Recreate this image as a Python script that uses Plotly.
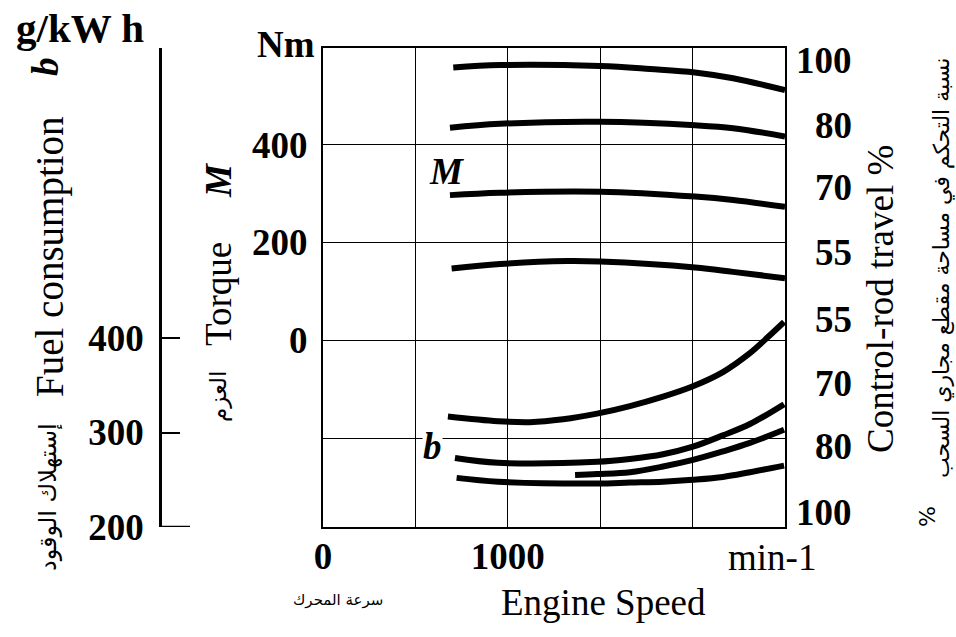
import plotly.graph_objects as go

# ---------------- data ----------------
speed_ticks = [0, 500, 1000, 1500, 2000, 2500]
speed_ticktext = ["0", "", "1000", "", "", ""]
torque_ticks = [-200, 0, 200, 400]
torque_ticktext = ["", "0", "200", "400"]
fuel_ticks = [200, 300, 400]
fuel_ticktext = ["200", "300", "400"]

# Torque curves M (Nm) for control-rod travel 100/80/70/55 %
torque_100_rpm = [705, 958, 1499, 1770, 2013, 2219, 2500]
torque_100 = [558, 563, 561, 555, 548, 536, 512]
torque_80_rpm = [687, 958, 1499, 2013, 2219, 2500]
torque_80 = [435, 443, 447, 440, 434, 417]
torque_70_rpm = [687, 958, 1499, 2013, 2219, 2500]
torque_70 = [297, 302, 304, 294, 287, 273]
torque_55_rpm = [696, 958, 1320, 1499, 2013, 2219, 2500]
torque_55 = [147, 156, 162, 161, 149, 140, 127]

# Fuel consumption curves b (g/kWh) for control-rod travel 55/70/80/100 %
fuel_55_rpm = [676, 947, 1120, 1299, 1483, 1661, 1840, 2002, 2164, 2310, 2402, 2495]
fuel_55 = [317, 312, 311, 314, 320, 328, 338, 349, 364, 384, 400, 417]
fuel_70_rpm = [714, 947, 1483, 1661, 1840, 2002, 2164, 2310, 2495]
fuel_70 = [273, 268, 269, 272, 277, 285, 297, 309, 330]
fuel_80_rpm = [1364, 1483, 1661, 1840, 2002, 2164, 2310, 2495]
fuel_80 = [255, 256, 258, 264, 271, 280, 289, 303]
fuel_100_rpm = [723, 947, 1483, 1661, 1840, 2002, 2164, 2310, 2495]
fuel_100 = [252, 248, 246, 247, 248, 250, 253, 258, 265]

# right-hand control-rod travel labels (placed against torque scale)
rod_labels = ["100", "80", "70", "55", "55", "70", "80", "100"]
rod_label_at = [573, 440, 312, 179, 42, -89, -218, -353]

# ---------------- layout helpers ----------------
W, H = 956, 637
ML, MR, MT, MB = 150, 171, 48, 110
PW = W - ML - MR
PH = H - MT - MB
PLOT_LEFT = 323


def px(x):
    return (x - ML) / PW


def py(y):
    return (H - MB - y) / PH


SERIF = "Liberation Serif"
ARAB = "DejaVu Sans"
BIG = 37

fig = go.Figure()

line_style = dict(color="black", width=6, shape="spline", smoothing=1.0)
for xs, ys in [(torque_100_rpm, torque_100), (torque_80_rpm, torque_80),
               (torque_70_rpm, torque_70), (torque_55_rpm, torque_55)]:
    fig.add_trace(go.Scatter(x=xs, y=ys, mode="lines", line=line_style,
                             yaxis="y", hoverinfo="skip"))
for xs, ys in [(fuel_55_rpm, fuel_55), (fuel_70_rpm, fuel_70),
               (fuel_80_rpm, fuel_80), (fuel_100_rpm, fuel_100)]:
    fig.add_trace(go.Scatter(x=xs, y=ys, mode="lines", line=line_style,
                             yaxis="y2", hoverinfo="skip"))

tickfont = dict(family=SERIF, size=BIG, color="black", weight="bold")

fig.update_layout(
    width=W, height=H,
    margin=dict(l=ML, r=MR, t=MT, b=MB, autoexpand=False),
    paper_bgcolor="white", plot_bgcolor="white",
    showlegend=False,
    xaxis=dict(domain=[px(PLOT_LEFT), 1], range=[0, 2500],
               tickvals=speed_ticks, ticktext=speed_ticktext,
               showgrid=True, gridcolor="black", gridwidth=1.2,
               showline=True, linecolor="black", linewidth=2, mirror=True,
               ticks="", zeroline=False, tickfont=tickfont,
               ticklabelstandoff=-4),
    yaxis=dict(range=[-382, 598], tickvals=torque_ticks,
               ticktext=torque_ticktext,
               showgrid=True, gridcolor="black", gridwidth=1.2,
               showline=True, linecolor="black", linewidth=2, mirror=True,
               ticks="", zeroline=False, tickfont=tickfont,
               ticklabelstandoff=6),
    yaxis2=dict(range=[200, 707], overlaying="y", anchor="free",
                position=px(160), side="left",
                tickvals=fuel_ticks, ticktext=fuel_ticktext,
                showgrid=False, zeroline=False,
                showline=True, linecolor="black", linewidth=2.5,
                ticks="inside", ticklen=18, tickwidth=2, tickcolor="black",
                tickfont=tickfont, ticklabelstandoff=8),
)

# longer bottom tick on the fuel axis
fig.add_shape(type="line", xref="paper", yref="y2",
              x0=px(160), x1=px(190), y0=200, y1=200,
              line=dict(color="black", width=2.5))

ann = []


def text(x, y, s, size=BIG, family=SERIF, angle=0, xanchor="center", **kw):
    d = dict(x=x, y=y, xref="paper", yref="paper", text=s, showarrow=False,
             font=dict(family=family, size=size, color="black"),
             textangle=angle, xanchor=xanchor, yanchor="middle")
    d.update(kw)
    ann.append(d)


text(px(80), py(28), "<b>g/kW h</b>", size=41)
text(px(286), py(44), "<b>Nm</b>")
text(px(45), py(66), "<b><i>b</i></b>", angle=-90)
text(px(50), py(257), "Fuel consumption", size=39, angle=-90)
text(px(48), py(497), "إستهلاك الوقود", size=24, family=ARAB, angle=-90)
text(px(218), py(181), "<b><i>M</i></b>", angle=-90)
text(px(218), py(294), "Torque", angle=-90)
text(px(218), py(397), "العزم", size=23, family=ARAB, angle=-90)
text(px(603), py(602), "Engine Speed")
text(px(338), py(600), "سرعة المحرك", size=15, family=ARAB)
text(px(772), py(557), "min-1")
text(px(880), py(299), "Control-rod travel %", angle=-90)
text(px(942), py(268), "نسبة التحكم في مساحة مقطع مجاري السحب", size=22,
     family=ARAB, angle=-90)
text(px(927), py(517), "%", size=22, family=ARAB, angle=-90)

# curve family labels inside the plot
ann.append(dict(x=666, y=346, xref="x", yref="y", text="<b><i>M</i></b>",
                showarrow=False, font=dict(family=SERIF, size=BIG, color="black")))
ann.append(dict(x=595, y=-218, xref="x", yref="y", text="<b><i>b</i></b>",
                showarrow=False, bgcolor="white", borderpad=0,
                font=dict(family=SERIF, size=BIG, color="black")))

for lab, v in zip(rod_labels, rod_label_at):
    ann.append(dict(x=1, y=v, xref="paper", yref="y", text=f"<b>{lab}</b>",
                    showarrow=False, xanchor="right", xshift=69,
                    font=dict(family=SERIF, size=BIG, color="black")))

fig.update_layout(annotations=ann)

fig.write_html("out.html", config={"displayModeBar": False},
               post_script="document.body.style.margin='0';")
